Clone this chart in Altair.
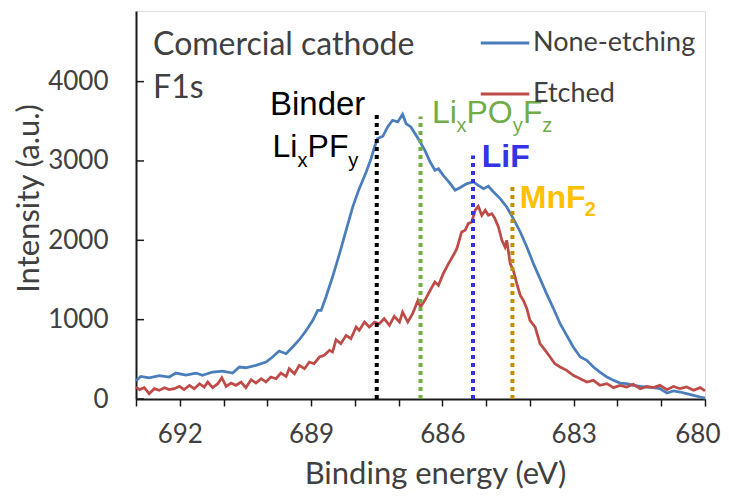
import altair as alt
import pandas as pd

# ---------------- data ----------------
energy_none = [693.00, 692.89, 692.70, 692.47, 692.24, 692.09, 691.86, 691.63, 691.48, 691.25,
               691.02, 690.79, 690.64, 690.49, 690.26, 690.03, 689.88, 689.73, 689.57, 689.42,
               689.27, 689.12, 688.96, 688.85, 688.77, 688.66, 688.51, 688.35, 688.20, 688.05,
               687.90, 687.74, 687.63, 687.55, 687.48, 687.36, 687.25, 687.14, 687.02, 686.91,
               686.83, 686.72, 686.53, 686.40, 686.28, 686.17, 686.09, 685.98, 685.82, 685.71,
               685.60, 685.44, 685.29, 685.18, 685.06, 684.95, 684.83, 684.68, 684.53, 684.38,
               684.22, 684.07, 683.92, 683.77, 683.62, 683.46, 683.31, 683.16, 683.01, 682.85,
               682.70, 682.55, 682.40, 682.24, 682.09, 681.94, 681.79, 681.64, 681.48, 681.33,
               681.18, 681.03, 680.87, 680.72, 680.57, 680.42, 680.26, 680.11, 680.00]
intensity_none = [230, 285, 268, 293, 277, 327, 302, 327, 298, 340,
                  352, 327, 403, 394, 424, 466, 529, 604, 571, 655,
                  747, 856, 991, 1117, 1117, 1285, 1537, 1831, 2125, 2419,
                  2651, 2861, 3029, 3177, 3282, 3311, 3429, 3513, 3492, 3588,
                  3471, 3429, 3261, 3134, 2987, 2883, 2903, 2819, 2714, 2630,
                  2663, 2714, 2735, 2693, 2651, 2681, 2609, 2525, 2420, 2273,
                  2105, 1916, 1706, 1517, 1328, 1138, 949, 802, 655, 529,
                  487, 403, 340, 277, 235, 201, 193, 172, 159, 151,
                  143, 130, 75, 101, 88, 67, 46, 25, 12]

energy_etched = [693.00, 692.92, 692.81, 692.70, 692.58, 692.47, 692.35, 692.24, 692.12, 692.01,
                 691.90, 691.78, 691.67, 691.55, 691.44, 691.36, 691.25, 691.13, 691.04, 690.94,
                 690.83, 690.72, 690.60, 690.49, 690.37, 690.26, 690.14, 690.03, 689.92, 689.80,
                 689.69, 689.57, 689.50, 689.38, 689.27, 689.15, 689.04, 688.93, 688.81, 688.70,
                 688.58, 688.51, 688.43, 688.32, 688.20, 688.09, 687.97, 687.90, 687.78, 687.67,
                 687.55, 687.44, 687.33, 687.21, 687.10, 686.98, 686.91, 686.79, 686.68, 686.56,
                 686.50, 686.40, 686.28, 686.17, 686.09, 685.98, 685.86, 685.75, 685.67, 685.56,
                 685.48, 685.41, 685.33, 685.25, 685.18, 685.10, 685.02, 684.95, 684.87, 684.80,
                 684.72, 684.64, 684.57, 684.53, 684.45, 684.38, 684.30, 684.22, 684.15, 684.07,
                 684.00, 683.88, 683.77, 683.65, 683.54, 683.43, 683.31, 683.16, 683.01, 682.85,
                 682.70, 682.55, 682.40, 682.24, 682.09, 681.94, 681.79, 681.64, 681.48, 681.33,
                 681.18, 681.03, 680.87, 680.72, 680.57, 680.42, 680.26, 680.11, 680.00]
intensity_etched = [151, 118, 143, 67, 130, 109, 143, 118, 130, 159,
                    118, 172, 130, 193, 151, 214, 143, 193, 268, 159,
                    201, 172, 214, 143, 243, 201, 256, 214, 277, 256,
                    327, 285, 382, 319, 424, 382, 466, 445, 529, 550,
                    613, 592, 747, 697, 802, 760, 907, 865, 970, 907,
                    970, 949, 1012, 928, 1042, 970, 1095, 970, 1075, 1243,
                    1160, 1243, 1370, 1474, 1432, 1580, 1706, 1811, 1895, 2105,
                    2126, 2210, 2231, 2379, 2429, 2315, 2379, 2315, 2336, 2273,
                    2168, 2000, 1916, 2000, 1706, 1622, 1453, 1306, 1243, 1138,
                    991, 907, 697, 613, 529, 445, 403, 361, 298, 256,
                    214, 235, 172, 193, 143, 172, 151, 185, 130, 159,
                    143, 172, 118, 159, 130, 151, 109, 143, 101]

series_names = ["None-etching", "Etched"]
series_colors = ["#4A7EBB", "#BE4B48"]

x_tick_values = list(range(680, 694))
y_tick_values = [0, 1000, 2000, 3000, 4000]

# reference (dotted) lines
ref_energy = [687.5, 686.5, 685.3, 684.4]
ref_top = [3600, 3560, 3070, 2720]
ref_colors = ["#000000", "#70AD47", "#3434DC", "#BF9000"]

# text annotations: text, energy, intensity
ann_text = ["Comercial cathode", "F1s",
            "Binder",
            "Li", "x", "PF", "y",
            "Li", "x", "PO", "y", "F", "z",
            "LiF",
            "MnF", "2"]
ann_energy = [692.61, 692.61,
              689.94,
              689.88, 689.31, 689.08, 688.15,
              686.24, 685.68, 685.45, 684.39, 684.16, 683.72,
              685.10,
              684.23, 682.75]
ann_intensity = [4333, 3791,
                 3578,
                 3049, 2923, 3049, 2923,
                 3478, 3364, 3478, 3364, 3478, 3364,
                 2927,
                 2407, 2306]
ann_kind = ["title", "title", "big",
            "main", "sub", "main", "sub",
            "main", "sub", "main", "sub", "main", "sub",
            "main", "main", "sub"]
ann_color = ["#404040", "#404040", "#000000",
             "#000000", "#000000", "#000000", "#000000",
             "#70AD47", "#70AD47", "#70AD47", "#70AD47", "#70AD47", "#70AD47",
             "#3434E6",
             "#FFC000", "#FFC000"]
ann_bold = [False] * 13 + [True, True, True]

# ---------------- build chart ----------------
df_none = pd.DataFrame({"energy": energy_none, "intensity": intensity_none, "series": series_names[0]})
df_etched = pd.DataFrame({"energy": energy_etched, "intensity": intensity_etched, "series": series_names[1]})

xscale = alt.Scale(domain=[680, 693], reverse=True, nice=False, zero=False)
yscale = alt.Scale(domain=[0, 4890], nice=False, zero=True)

X = alt.X("energy:Q", scale=xscale, title="Binding energy (eV)",
          axis=alt.Axis(values=x_tick_values, labelExpr="datum.value % 3 == 2 ? datum.label : ''",
                        grid=False, tickSize=7, tickWidth=1.5, tickColor="#1a1a1a",
                        domainColor="#1a1a1a", domainWidth=2,
                        labelFont="Lato", labelFontSize=26, labelColor="#404040", labelPadding=15,
                        labelFlush=True, labelFlushOffset=15, labelOverlap=False,
                        titleFont="Lato", titleFontSize=31, titleFontWeight="normal", titleColor="#404040",
                        titleX=299, titleY=84, titleBaseline="alphabetic", titleAlign="center"))
Y = alt.Y("intensity:Q", scale=yscale, title="Intensity (a.u.)",
          axis=alt.Axis(values=y_tick_values, format="d", grid=False, ticks=False, tickSize=0,
                        domainColor="#1a1a1a", domainWidth=2,
                        labelFont="Lato", labelFontSize=26, labelColor="#404040", labelPadding=28,
                        titleFont="Lato", titleFontSize=31, titleFontWeight="normal", titleColor="#404040",
                        titleX=-98, titleY=187, titleBaseline="alphabetic", titleAlign="center", titleAngle=270))

color = alt.Color("series:N", scale=alt.Scale(domain=series_names, range=series_colors),
                  legend=alt.Legend(title=None, orient="none", legendX=343, legendY=6, padding=0,
                                    symbolType="stroke", symbolSize=2350, symbolStrokeWidth=3,
                                    labelFont="Lato", labelFontSize=27, labelColor="#404040",
                                    labelOffset=2, rowPadding=12, labelLimit=400))

line_none = alt.Chart(df_none).mark_line(strokeWidth=2.75).encode(x=X, y=Y, color=color)
line_etched = alt.Chart(df_etched).mark_line(strokeWidth=2.75).encode(x=X, y=Y, color=color)

layers = []
for e, top, c in zip(ref_energy, ref_top, ref_colors):
    d = pd.DataFrame({"energy": [e], "intensity": [0], "top": [top]})
    layers.append(alt.Chart(d).mark_rule(color=c, strokeWidth=4, strokeDash=[4, 4]).encode(
        x=X, y=Y, y2="top:Q"))

# inward y ticks
ytick_df = pd.DataFrame({"intensity": y_tick_values})
yticks = alt.Chart(ytick_df).mark_rule(color="#1a1a1a", strokeWidth=1.5).encode(
    y=Y, x=alt.value(0), x2=alt.value(8))

for t, e, i, k, c, b in zip(ann_text, ann_energy, ann_intensity, ann_kind, ann_color, ann_bold):
    d = pd.DataFrame({"energy": [e], "intensity": [i], "label": [t]})
    if k == "title":
        font, size = "Lato", 32
    elif k == "big":
        font, size = "Liberation Sans", 33
    elif k == "main":
        font, size = "Liberation Sans", 32
    else:
        font, size = "Liberation Sans", 20
    layers.append(alt.Chart(d).mark_text(font=font, fontSize=size, fontWeight="bold" if b else "normal",
                                         color=c, align="left", baseline="alphabetic").encode(
        x=X, y=Y, text="label:N"))

chart = alt.layer(line_none, line_etched, yticks, *layers).properties(
    width=569, height=388,
    autosize=alt.AutoSizeParams(type="none"),
    padding={"left": 128, "top": 3, "right": 16, "bottom": 90},
).configure_view(stroke="#1a1a1a", strokeWidth=2).configure(background="white")

chart.save("out.html", embed_options={"renderer": "svg", "actions": False})
